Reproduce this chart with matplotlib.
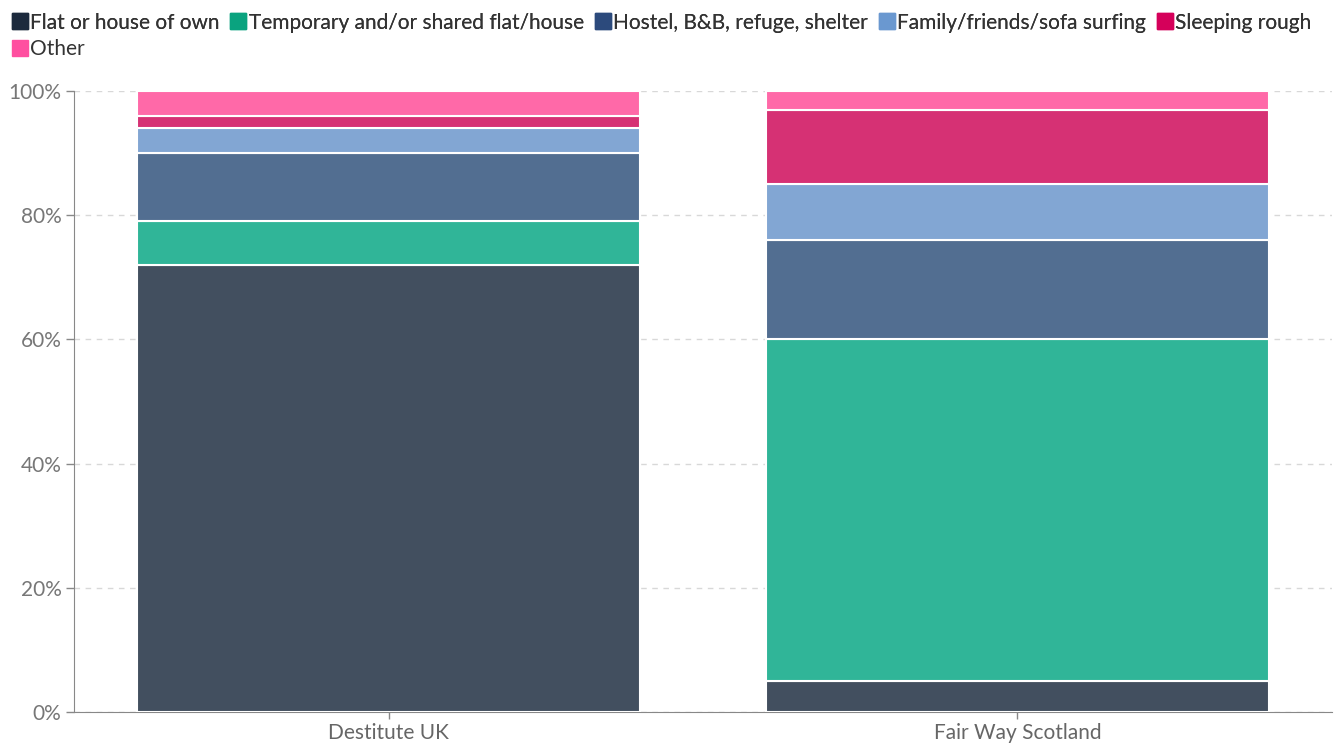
import matplotlib.pyplot as plt
from matplotlib.lines import Line2D
import numpy as np

plt.rcParams['font.family'] = ['Lato', 'DejaVu Sans']

# Data (percent of each group)
groups = ['Destitute UK', 'Fair Way Scotland']
labels = ['Flat or house of own', 'Temporary and/or shared flat/house',
          'Hostel, B&B, refuge, shelter', 'Family/friends/sofa surfing',
          'Sleeping rough', 'Other']
flat_own = [72, 5]
temporary = [7, 55]
hostel = [11, 16]
family = [4, 9]
rough = [2, 12]
other = [4, 3]

bar_colors = ['#424f5f', '#30b598', '#526e91', '#82a6d3', '#d63174', '#ff69a8']
key_colors = ['#1c2a3d', '#0aa37f', '#2c4a7c', '#6a98d0', '#d5005a', '#ff4fa0']

fig = plt.figure(figsize=(13.36, 7.45), dpi=100)
ax = fig.add_axes([0.0554, 0.0443, 0.9416, 0.8336])

x = np.arange(len(groups))
bottom = np.zeros(len(groups))
for vals, col in zip([flat_own, temporary, hostel, family, rough, other], bar_colors):
    ax.bar(x, vals, width=0.8, bottom=bottom, color=col,
           edgecolor='white', linewidth=1.5, zorder=3)
    bottom += np.array(vals)

ax.set_xlim(-0.5, 1.5)
ax.set_ylim(0, 100)
ax.set_yticks([0, 20, 40, 60, 80, 100])
ax.set_yticklabels([f'{v}%' for v in [0, 20, 40, 60, 80, 100]])
ax.set_xticks(x)
ax.set_xticklabels(groups)
ax.yaxis.grid(True, linestyle=(0, (4, 4)), color='#d8d8d8', linewidth=1, zorder=0)
ax.tick_params(axis='y', colors='#888888', labelcolor='#777777', labelsize=15,
               length=6, width=1, pad=3)
ax.tick_params(axis='x', colors='#888888', labelcolor='#666666', labelsize=15,
               length=5, width=1, pad=3)
for s in ['top', 'right']:
    ax.spines[s].set_visible(False)
ax.spines['left'].set_color('#888888')
ax.spines['bottom'].set_color('#888888')

# Legend: five keys on the first row, "Other" on the second
handles = [Line2D([], [], marker='s', linestyle='none', markersize=12,
                  markerfacecolor=c, markeredgecolor=c) for c in key_colors]
leg1 = fig.legend(handles[:5], labels[:5], loc='upper left',
                  bbox_to_anchor=(-0.004, 1.008), ncol=5, frameon=False,
                  fontsize=15, handlelength=0.6, handletextpad=0.2,
                  columnspacing=0.6, labelcolor='#333333')
fig.add_artist(leg1)
fig.legend(handles[5:], labels[5:], loc='upper left',
           bbox_to_anchor=(-0.004, 0.973), frameon=False, fontsize=15,
           handlelength=0.6, handletextpad=0.2, labelcolor='#333333')

fig.savefig('out.png', dpi=100)
